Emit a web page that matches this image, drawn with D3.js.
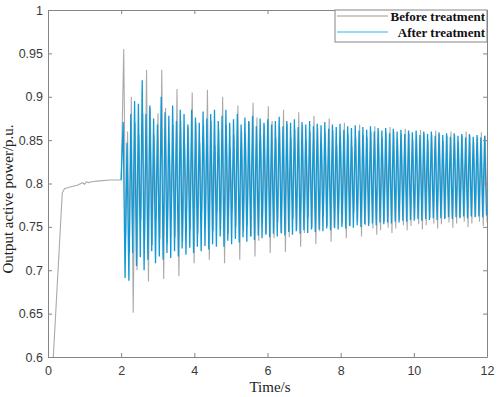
<!DOCTYPE html>
<html>
<head>
<meta charset="utf-8">
<script src="https://cdn.jsdelivr.net/npm/d3@7"></script>
<style>
  html, body { margin: 0; padding: 0; background: #fff; }
  svg { display: block; }
</style>
</head>
<body>
<div id="chart"></div>
<script>
// Start-up part (0 - 2 s), shared by both cases
const preTime  = [0, 0.39, 0.45, 0.6, 0.8, 0.9, 0.95, 1.0, 1.05, 1.1, 1.2, 1.4, 1.7, 2.0];
const preValue = [0.488, 0.789, 0.794, 0.796, 0.798, 0.800, 0.801, 0.799, 0.802, 0.801, 0.802, 0.803, 0.804, 0.804];

// Oscillation after the disturbance: successive maxima / minima,
// one extremum every half period
const halfPeriod = 0.052;
const grayStart = 2.07;
const blueStart = 2.055;

const grayHigh = [
  0.955, 0.860, 0.900, 0.870, 0.856, 0.881, 0.931, 0.887, 0.856, 0.881, 0.931, 0.887,
  0.847, 0.868, 0.909, 0.873, 0.846, 0.865, 0.905, 0.870, 0.847, 0.867, 0.908, 0.872,
  0.844, 0.862, 0.900, 0.867, 0.840, 0.856, 0.890, 0.861, 0.858, 0.871, 0.893, 0.876,
  0.856, 0.868, 0.889, 0.872, 0.853, 0.865, 0.885, 0.869, 0.852, 0.863, 0.882, 0.867,
  0.849, 0.860, 0.878, 0.864, 0.847, 0.858, 0.875, 0.861, 0.844, 0.854, 0.870, 0.857,
  0.843, 0.853, 0.868, 0.856, 0.854, 0.860, 0.866, 0.861, 0.853, 0.859, 0.865, 0.860,
  0.852, 0.857, 0.863, 0.858, 0.851, 0.856, 0.862, 0.858, 0.850, 0.856, 0.861, 0.857,
  0.849, 0.855, 0.860, 0.856, 0.849, 0.855, 0.860, 0.856, 0.848, 0.854, 0.859, 0.855
];
const grayLow = [
  0.740, 0.720, 0.651, 0.700, 0.758, 0.735, 0.687, 0.729, 0.760, 0.736, 0.690, 0.731,
  0.761, 0.738, 0.693, 0.733, 0.767, 0.747, 0.708, 0.742, 0.768, 0.750, 0.712, 0.745,
  0.767, 0.747, 0.708, 0.742, 0.768, 0.750, 0.712, 0.745, 0.752, 0.739, 0.716, 0.734,
  0.754, 0.742, 0.720, 0.737, 0.755, 0.742, 0.721, 0.738, 0.759, 0.747, 0.727, 0.743,
  0.760, 0.749, 0.730, 0.745, 0.762, 0.751, 0.733, 0.748, 0.765, 0.754, 0.737, 0.751,
  0.766, 0.756, 0.739, 0.752, 0.754, 0.748, 0.741, 0.746, 0.756, 0.749, 0.743, 0.748,
  0.758, 0.752, 0.746, 0.751, 0.759, 0.753, 0.747, 0.752, 0.760, 0.754, 0.748, 0.753,
  0.760, 0.755, 0.749, 0.754, 0.761, 0.756, 0.750, 0.754, 0.762, 0.756, 0.751, 0.755
];

const blueHigh = [
  0.871, 0.847, 0.880, 0.895, 0.892, 0.919, 0.880, 0.890, 0.875, 0.868, 0.900, 0.882,
  0.878, 0.890, 0.872, 0.885, 0.880, 0.868, 0.885, 0.876, 0.870, 0.883, 0.875, 0.880,
  0.885, 0.872, 0.878, 0.885, 0.870, 0.874, 0.880, 0.868, 0.876, 0.872, 0.878, 0.866,
  0.875, 0.870, 0.874, 0.868, 0.872, 0.877, 0.866, 0.872, 0.870, 0.874, 0.865, 0.871,
  0.868, 0.872, 0.866, 0.869, 0.867, 0.871, 0.863, 0.868, 0.865, 0.869, 0.862, 0.866,
  0.864, 0.867, 0.861, 0.865, 0.862, 0.866, 0.860, 0.864, 0.861, 0.864, 0.858, 0.863,
  0.860, 0.862, 0.857, 0.861, 0.859, 0.861, 0.856, 0.860, 0.857, 0.860, 0.855, 0.859,
  0.856, 0.858, 0.854, 0.858, 0.855, 0.857, 0.853, 0.857, 0.854, 0.856, 0.853, 0.855
];
const blueLow = [
  0.691, 0.688, 0.720, 0.705, 0.715, 0.700, 0.712, 0.722, 0.708, 0.716, 0.712, 0.720,
  0.714, 0.722, 0.716, 0.725, 0.718, 0.726, 0.720, 0.727, 0.722, 0.728, 0.724, 0.730,
  0.727, 0.739, 0.727, 0.734, 0.730, 0.736, 0.732, 0.738, 0.733, 0.739, 0.735, 0.740,
  0.737, 0.741, 0.738, 0.742, 0.739, 0.743, 0.740, 0.744, 0.741, 0.745, 0.742, 0.746,
  0.743, 0.747, 0.744, 0.747, 0.745, 0.748, 0.746, 0.749, 0.747, 0.750, 0.748, 0.751,
  0.749, 0.752, 0.750, 0.753, 0.751, 0.754, 0.752, 0.755, 0.753, 0.755, 0.754, 0.756,
  0.755, 0.757, 0.756, 0.758, 0.757, 0.759, 0.757, 0.759, 0.758, 0.760, 0.758, 0.760,
  0.759, 0.761, 0.759, 0.761, 0.760, 0.762, 0.760, 0.762, 0.761, 0.762, 0.761, 0.763
];

const xTicks = [0, 2, 4, 6, 8, 10, 12];
const yTicks = [0.6, 0.65, 0.7, 0.75, 0.8, 0.85, 0.9, 0.95, 1];
const seriesNames = ["Before treatment", "After treatment"];

// build point lists: interleave maxima and minima on the time grid
function buildSeries(start, highs, lows, withPre) {
  const pts = withPre ? preTime.map((t, i) => [t, preValue[i]]) : [[2.0, preValue[preValue.length - 1]]];
  highs.forEach((h, i) => {
    pts.push([start + 2 * i * halfPeriod, h]);
    pts.push([start + (2 * i + 1) * halfPeriod, lows[i]]);
  });
  return pts;
}
const grayData = buildSeries(grayStart, grayHigh, grayLow, true);
const blueData = buildSeries(blueStart, blueHigh, blueLow, false);

const W = 498, H = 397;
const margin = { top: 10, right: 11, bottom: 40, left: 48 };
const width = W - margin.left - margin.right;
const height = H - margin.top - margin.bottom;

const axisColor = "#858585";
const labelColor = "#3a3a3a";
const grayColor = "#aaaaaa";
const blueColor = "#1199d6";

const svg = d3.select("#chart").append("svg")
  .attr("width", W)
  .attr("height", H);

const g = svg.append("g")
  .attr("transform", `translate(${margin.left},${margin.top})`);

const x = d3.scaleLinear().domain([0, 12]).range([0, width]);
const y = d3.scaleLinear().domain([0.6, 1]).range([height, 0]);

g.append("clipPath").attr("id", "plot-clip")
  .append("rect").attr("width", width).attr("height", height);

const line = d3.line().x(d => x(d[0])).y(d => y(d[1]));

const plot = g.append("g").attr("clip-path", "url(#plot-clip)");
plot.append("path")
  .datum(grayData)
  .attr("d", line)
  .attr("fill", "none")
  .attr("stroke", grayColor)
  .attr("stroke-width", 1.1);
plot.append("path")
  .datum(blueData)
  .attr("d", line)
  .attr("fill", "none")
  .attr("stroke", blueColor)
  .attr("stroke-width", 1.3);

// Axes (ticks pointing inward, mirrored on top and right)
const tickFont = "'Liberation Sans', Arial, sans-serif";

const xAxis = g.append("g")
  .attr("transform", `translate(0,${height})`)
  .call(d3.axisBottom(x).tickValues(xTicks).tickSizeInner(-4).tickSizeOuter(0).tickPadding(9).tickFormat(d3.format("d")));
const yAxis = g.append("g")
  .call(d3.axisLeft(y).tickValues(yTicks).tickSizeInner(-4).tickSizeOuter(0).tickPadding(5).tickFormat(d => String(+d.toFixed(2))));
const xTop = g.append("g")
  .call(d3.axisTop(x).tickValues(xTicks).tickSizeInner(-4).tickSizeOuter(0).tickFormat(""));
const yRight = g.append("g")
  .attr("transform", `translate(${width},0)`)
  .call(d3.axisRight(y).tickValues(yTicks).tickSizeInner(-4).tickSizeOuter(0).tickFormat(""));

[xAxis, yAxis, xTop, yRight].forEach(a => {
  a.select(".domain").attr("stroke", axisColor).attr("stroke-width", 1);
  a.selectAll(".tick line").attr("stroke", axisColor);
  a.selectAll(".tick text")
    .attr("fill", labelColor)
    .style("font-family", tickFont)
    .style("font-size", "12.5px");
});

// Axis titles
const serif = "'Liberation Serif', 'Times New Roman', serif";
svg.append("text")
  .attr("x", 270)
  .attr("y", 392)
  .attr("text-anchor", "middle")
  .style("font-family", serif)
  .style("font-size", "15px")
  .attr("fill", "#222")
  .text("Time/s");

svg.append("text")
  .attr("transform", "translate(13,199) rotate(-90)")
  .attr("text-anchor", "middle")
  .style("font-family", serif)
  .style("font-size", "15px")
  .attr("fill", "#222")
  .text("Output active power/p.u.");

// Legend
const legend = g.append("g").attr("transform", `translate(${width - 152},0)`);
legend.append("rect")
  .attr("width", 152)
  .attr("height", 32)
  .attr("fill", "#fff")
  .attr("stroke", axisColor)
  .attr("stroke-width", 1);

const legendColors = ["#999", "#27b5e3"];
seriesNames.forEach((name, i) => {
  const ly = 6 + i * 16;
  legend.append("line")
    .attr("x1", 2).attr("x2", 53)
    .attr("y1", ly).attr("y2", ly)
    .attr("stroke", legendColors[i])
    .attr("stroke-width", 1);
  legend.append("text")
    .attr("x", 150)
    .attr("y", ly + 5)
    .attr("text-anchor", "end")
    .style("font-family", serif)
    .style("font-size", "13px")
    .style("font-weight", "bold")
    .attr("fill", "#111")
    .text(name);
});
</script>
</body>
</html>
